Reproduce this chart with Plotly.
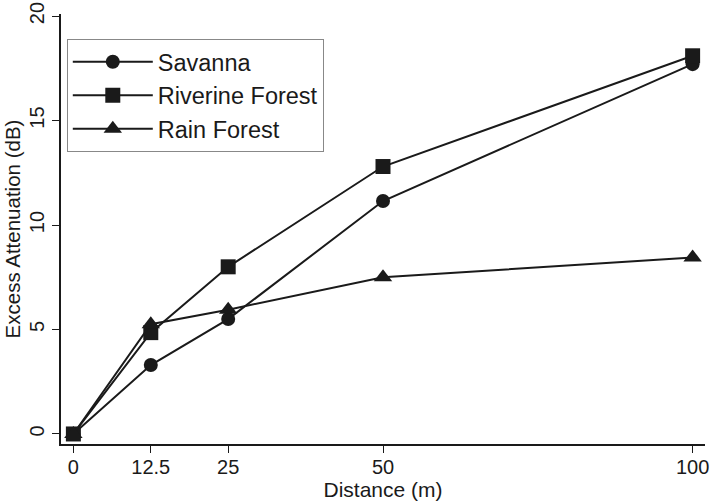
import plotly.graph_objects as go

distance = [0, 12.5, 25, 50, 100]
savanna = [0, 3.3, 5.5, 11.15, 17.7]
riverine = [0, 4.85, 8.0, 12.8, 18.1]
rain = [0, 5.25, 5.95, 7.5, 8.45]
x_ticks = [0, 12.5, 25, 50, 100]
x_tick_labels = ["0", "12.5", "25", "50", "100"]
y_ticks = [0, 5, 10, 15, 20]

ink = "#1a1a1a"
fig = go.Figure()
series = [
    ("Savanna", savanna, "circle", 14),
    ("Riverine Forest", riverine, "square", 15),
    ("Rain Forest", rain, "triangle-up", 16),
]
for i, (name, vals, sym, sz) in enumerate(series):
    fig.add_trace(go.Scatter(
        x=distance, y=vals, name=name, mode="lines+markers",
        line=dict(color=ink, width=2),
        marker=dict(symbol=sym, size=sz, color=ink),
        legendgroup=f"g{i}",
    ))

font = "Liberation Sans, Arial, Helvetica, sans-serif"
fig.update_layout(
    width=710, height=501,
    margin=dict(l=61, r=5, t=14, b=57),
    paper_bgcolor="white", plot_bgcolor="white",
    font=dict(family=font, color=ink, size=19),
    showlegend=True,
    legend=dict(
        x=0.009, y=0.942, xanchor="left", yanchor="top",
        bgcolor="white", bordercolor="#888888", borderwidth=1,
        font=dict(size=23.5, family=font, color=ink),
        traceorder="grouped", tracegroupgap=0, itemwidth=80,
    ),
    xaxis=dict(
        range=[-2, 102], tickmode="array", tickvals=x_ticks, ticktext=x_tick_labels,
        showgrid=False, zeroline=False, showline=True, linecolor=ink, linewidth=1.5,
        ticks="outside", ticklen=7, tickcolor=ink, tickfont=dict(size=20),
        ticklabelstandoff=-3,
        automargin=False,
        title=dict(text="Distance (m)", font=dict(size=21), standoff=4),
    ),
    yaxis=dict(
        range=[-0.48, 20.1], tickmode="array", tickvals=y_ticks,
        showgrid=False, zeroline=False, showline=True, linecolor=ink, linewidth=1.5,
        ticks="outside", ticklen=7, tickcolor=ink, tickfont=dict(size=20), tickangle=-90,
        automargin=False,
        title=dict(text="Excess Attenuation (dB)", font=dict(size=20.5), standoff=0),
    ),
)
fig.write_html("out.html", post_script="document.body.style.margin='0';",
               config={"displayModeBar": False})
